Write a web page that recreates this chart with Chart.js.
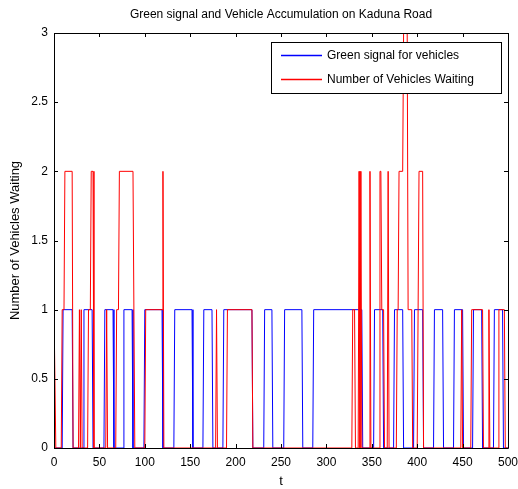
<!DOCTYPE html>
<html>
<head>
<meta charset="utf-8">
<script src="https://cdn.jsdelivr.net/npm/chart.js@4.4.1/dist/chart.umd.min.js"></script>
<style>
html,body{margin:0;padding:0;background:#fff;}
#wrap{width:518px;height:489px;position:relative;}
</style>
</head>
<body>
<div id="wrap"><canvas id="c" width="518" height="489"></canvas></div>
<script>
// ---- data ----
const titleText = "Green signal and Vehicle Accumulation on Kaduna Road";
const xAxisLabel = "t";
const yAxisLabel = "Number of Vehicles Waiting";
const seriesNames = ["Green signal for vehicles", "Number of Vehicles Waiting"];
const seriesColors = ["rgb(0,0,255)", "rgb(255,0,0)"];

const greenT = [0, 9,10,20,21, 32,33,42,43, 55,56,65,66, 76,77,86,87, 99,100,119,120,
  132,133,152,153, 164,165,174,175, 186,187,218,219, 231,232,240,241, 253,254,273,274,
  285,286,339,340, 352,353,362,363, 374,375,384,385, 396,397,406,407, 418,419,428,429,
  440,441,450,451, 461,462,471,472, 484,485,494,495, 500];
const greenV = [0, 0,1,1,0, 0,1,1,0, 0,1,1,0, 0,1,1,0, 0,1,1,0,
  0,1,1,0, 0,1,1,0, 0,1,1,0, 0,1,1,0, 0,1,1,0,
  0,1,1,0, 0,1,1,0, 0,1,1,0, 0,1,1,0, 0,1,1,0,
  0,1,1,0, 0,1,1,0, 0,1,1,0, 0];

const waitT = [0,1,2, 8,9,11,12,20,21, 27,28,29,30,31, 37,38,40,41,43,44, 57,58,59,
  68,69,71,72,87,89, 100,101,119,120,121, 178,179,180, 190,191,218,219,
  328,329,331,332, 335,336,337,338,339, 347,348,349, 358,359,360,361,363,364,
  367,368,369, 377,378,379,380,384,385,389,390,394,395, 400,401,402,406,407,
  448,449,450, 459,460,472,473, 478,479,480, 489,490,496,497,500];
const waitV = [1,1,0, 0,1,1,2,2,0, 0,1,0,1,0, 0,1,1,2,2,0, 0,1,0,
  0,1,1,2,2,0, 0,1,1,2,0, 0,1,0, 0,1,1,0,
  0,1,1,0, 0,2,0,2,0, 0,2,0, 0,2,2,1,1,0,
  0,2,0, 0,1,1,2,2,3,3,1,1,0, 0,1,2,2,0,
  0,1,0, 0,1,1,0, 0,1,0, 0,1,1,0,0];

const xTicks = [0,50,100,150,200,250,300,350,400,450,500];
const yTicks = [0,0.5,1,1.5,2,2.5,3];

const FONT = "'Liberation Sans', Arial, sans-serif";

const toPts = (ts, vs) => ts.map((t, i) => ({x: t, y: vs[i]}));

const framePlugin = {
  id: 'frame',
  afterDatasetsDraw(chart) {
    const {ctx, chartArea: a, scales} = chart;
    ctx.save();
    ctx.globalAlpha = 1;
    ctx.globalCompositeOperation = 'source-over';
    ctx.strokeStyle = '#000';
    ctx.lineWidth = 1;
    ctx.setLineDash([]);
    // box
    ctx.beginPath();
    ctx.rect(Math.round(a.left)+0.5, Math.round(a.top)+0.5, Math.round(a.right-a.left), Math.round(a.bottom-a.top));
    ctx.stroke();
    // inward ticks, all four sides
    const tl = 4;
    ctx.beginPath();
    xTicks.forEach(v => {
      const px = Math.round(scales.x.getPixelForValue(v)) + 0.5;
      ctx.moveTo(px, a.bottom); ctx.lineTo(px, a.bottom - tl);
      ctx.moveTo(px, a.top); ctx.lineTo(px, a.top + tl);
    });
    yTicks.forEach(v => {
      const py = Math.round(scales.y.getPixelForValue(v)) + 0.5;
      ctx.moveTo(a.left, py); ctx.lineTo(a.left + tl, py);
      ctx.moveTo(a.right, py); ctx.lineTo(a.right - tl, py);
    });
    ctx.stroke();

    // legend box
    const lx = 271, ly = 42, lw = 230, lh = 51;
    ctx.fillStyle = '#fff';
    ctx.fillRect(lx, ly, lw, lh);
    ctx.strokeStyle = '#000';
    ctx.strokeRect(lx + 0.5, ly + 0.5, lw, lh);
    const rowY = [55, 79];
    ctx.font = '12px ' + FONT;
    ctx.textBaseline = 'middle';
    ctx.textAlign = 'left';
    for (let i = 0; i < rowY.length; i++) {
      const y = rowY[i];
      ctx.beginPath();
      ctx.strokeStyle = seriesColors[i];
      ctx.lineWidth = 1.5;
      ctx.moveTo(281, y + 0.5);
      ctx.lineTo(322, y + 0.5);
      ctx.stroke();
      ctx.fillStyle = '#000';
      ctx.fillText(seriesNames[i], 327, y + 1);
    }

    // title and axis labels
    ctx.fillStyle = '#000';
    ctx.textAlign = 'center';
    ctx.font = '12px ' + FONT;
    ctx.fillText(titleText, (a.left + a.right) / 2, 15);
    ctx.font = '13px ' + FONT;
    ctx.fillText(xAxisLabel, (a.left + a.right) / 2, 481);
    ctx.translate(15, (a.top + a.bottom) / 2);
    ctx.rotate(-Math.PI / 2);
    ctx.fillText(yAxisLabel, 0, 0);
    ctx.restore();
  }
};

new Chart(document.getElementById('c'), {
  type: 'line',
  data: {
    datasets: [
      {label: seriesNames[0], data: toPts(greenT, greenV), borderColor: seriesColors[0], borderWidth: 1,
       pointRadius: 0, tension: 0, fill: false, order: 1},
      {label: seriesNames[1], data: toPts(waitT, waitV), borderColor: seriesColors[1], borderWidth: 1,
       pointRadius: 0, tension: 0, fill: false, order: 0}
    ]
  },
  options: {
    responsive: false,
    animation: false,
    devicePixelRatio: 1,
    layout: {padding: {top: 33, right: 10, left: 0, bottom: 0}},
    plugins: {legend: {display: false}, title: {display: false}, tooltip: {enabled: false}},
    scales: {
      x: {
        type: 'linear', min: 0, max: 500,
        afterBuildTicks: s => { s.ticks = xTicks.map(v => ({value: v})); },
        afterFit: s => { s.height = 41; s.paddingLeft = 0; s.paddingRight = 0; },
        grid: {display: false, drawTicks: false},
        border: {display: false},
        ticks: {color: '#000', font: {family: FONT, size: 12}, padding: 7, maxRotation: 0, autoSkip: false,
                callback: v => String(v)}
      },
      y: {
        type: 'linear', min: 0, max: 3,
        afterBuildTicks: s => { s.ticks = yTicks.map(v => ({value: v})); },
        afterFit: s => { s.width = 54; s.paddingTop = 0; s.paddingBottom = 0; },
        grid: {display: false, drawTicks: false},
        border: {display: false},
        ticks: {color: '#000', font: {family: FONT, size: 12}, padding: 6, autoSkip: false,
                callback: v => String(v)}
      }
    }
  },
  plugins: [framePlugin]
});
</script>
</body>
</html>
